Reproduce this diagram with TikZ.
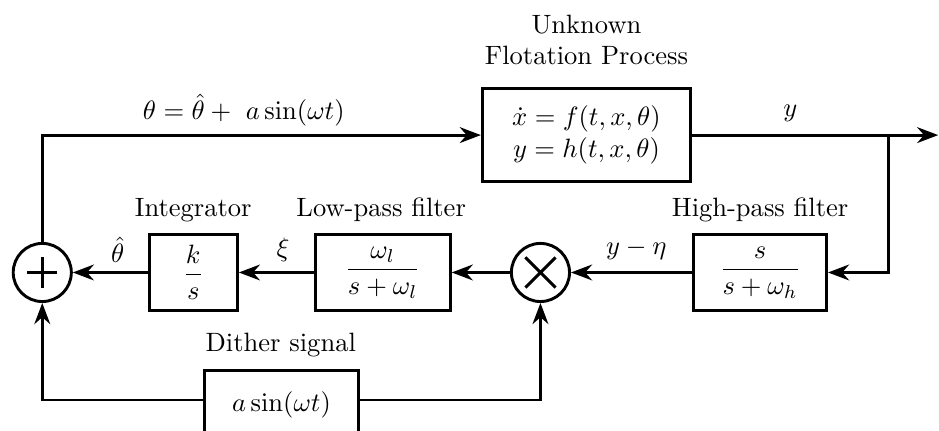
\documentclass[tikz,border=0pt]{standalone}
\usepackage{amsmath}
\usetikzlibrary{arrows.meta,positioning,calc}
\begin{document}
\begin{tikzpicture}[>=Stealth,line width=1.1pt]
\tikzstyle{b}=[draw,minimum height=1.01cm,align=center]
\tikzstyle{j}=[draw,circle,minimum size=0.77cm,inner sep=0pt]
\tikzstyle{t}=[inner sep=1pt]
\useasboundingbox (0,0) rectangle (12.44,5.70);
\node[j] (sum) at (0.56,2.09) {};
\node[j] (mult) at (7.16,2.09) {};
\node[b,minimum width=2.76cm,minimum height=1.23cm] (plant) at (7.77,3.91) {$\dot x = f(t,x,\theta)$\\$y = h(t,x,\theta)$};
\node[b,minimum width=1.76cm] (hpf) at (10.07,2.09) {$\dfrac{s}{s+\omega_h}$};
\node[b,minimum width=1.79cm] (lpf) at (5.07,2.09) {$\dfrac{\omega_l}{s+\omega_l}$};
\node[b,minimum width=1.17cm] (int) at (2.56,2.09) {$\dfrac{k}{s}$};
\node[b,minimum width=2.04cm,minimum height=0.92cm] (dith) at (3.73,0.33) {$a\sin(\omega t)$};
\coordinate (br) at (11.77,3.91);
\coordinate (out) at (12.43,3.91);
% labels
\node[t,align=center] (tplant) at (7.77,5.17) {Unknown\\Flotation Process};
\node[t] (thpf) at (10.07,2.92) {High-pass filter};
\node[t] (tlpf) at (5.05,2.92) {Low-pass filter};
\node[t] (tint) at (2.56,2.92) {Integrator};
\node[t] (tdith) at (3.72,1.13) {Dither signal};
\node[t] (lth) at (3.23,4.24) {$\theta = \hat\theta +\ a\sin(\omega t)$};
\node[t] (ly) at (10.47,4.20) {$y$};
\node[t] (lyeta) at (8.43,2.39) {$y-\eta$};
\node[t] (lxi) at (3.75,2.39) {$\xi$};
\node[t] (lthh) at (1.56,2.39) {$\hat\theta$};
% signs
\draw ([xshift=-0.2cm]sum.center) -- ([xshift=0.2cm]sum.center) ([yshift=-0.2cm]sum.center) -- ([yshift=0.2cm]sum.center);
\draw ([shift={(-0.2,-0.2)}]mult.center) -- ([shift={(0.2,0.2)}]mult.center) ([shift={(-0.2,0.2)}]mult.center) -- ([shift={(0.2,-0.2)}]mult.center);
% signals
\draw[->] (sum) |- (plant);
\draw[->] (plant) -- (out);
\draw[->] (br) |- (hpf);
\draw[->] (hpf) -- (mult);
\draw[->] (mult) -- (lpf);
\draw[->] (lpf) -- (int);
\draw[->] (int) -- (sum);
\draw[->] ([yshift=2pt]dith.west) -| (sum);
\draw[->] ([yshift=2pt]dith.east) -| (mult);
\end{tikzpicture}
\end{document}
